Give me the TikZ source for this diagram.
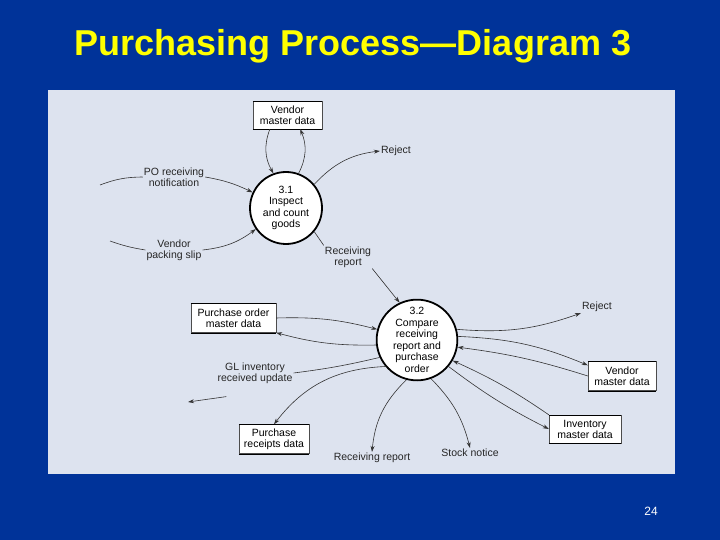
\documentclass[tikz,border=0pt]{standalone}
\usepackage{fontspec}
\setmainfont{Liberation Sans}
\usetikzlibrary{arrows.meta}
\definecolor{bg}{RGB}{0,51,153}
\definecolor{panel}{RGB}{221,227,239}
\definecolor{ttl}{RGB}{255,255,0}
\begin{document}
\begin{tikzpicture}[x=1pt,y=-1pt,
 lbl/.style={font=\fontsize{10.5}{11}\selectfont,align=center,inner sep=1pt,text=black!85},
 proc/.style={circle,draw,line width=1.8pt,fill=white,align=center,font=\fontsize{10.5}{11.5}\selectfont,inner sep=0pt},
 store/.style={draw=black!70,line width=0.4pt,fill=white,align=center,font=\fontsize{10.5}{11}\selectfont,inner sep=1.5pt,
   append after command={[line width=1.6pt] (\tikzlastnode.north west) edge[-] (\tikzlastnode.north east)
     (\tikzlastnode.south west) edge[-] (\tikzlastnode.south east)}},
 fl/.style={-{Stealth[length=6pt,width=4pt]},line width=0.6pt,black!80},
 ln/.style={line width=0.6pt,black!80}]
\useasboundingbox (0,0) rectangle (720,540);
\fill[bg] (0,0) rectangle (720,540);
\fill[panel] (48,90) rectangle (675,474);
\node[font=\bfseries\fontsize{36}{40}\selectfont,text=ttl] (title) at (353,46) {Purchasing Process---Diagram 3};
\node[text=white,font=\fontsize{12}{14}\selectfont] (pg) at (651,511) {24};

\node[proc,minimum size=72pt] (p1) at (286,208) {3.1\\Inspect\\and count\\goods};
\node[proc,minimum size=76pt] (p2) at (417,340) {3.2\\Compare\\receiving\\report and\\purchase\\order};

\node[store,minimum width=69pt,minimum height=28pt] (vm1) at (287.5,115) {Vendor\\master data};
\node[store,minimum width=85pt,minimum height=29pt] (po) at (233.5,318) {Purchase order\\master data};
\node[store,minimum width=70pt,minimum height=29pt] (pr) at (274,439) {Purchase\\receipts data};
\node[store,minimum width=68pt,minimum height=29pt] (vm2) at (622,376) {Vendor\\master data};
\node[store,minimum width=72pt,minimum height=28pt] (im) at (585,429) {Inventory\\master data};

\node[lbl] (porn) at (174,177) {PO receiving\\notification};
\node[lbl] (vps) at (174,250) {Vendor\\packing slip};
\node[lbl] (rej1) at (396,151) {Reject};
\node[lbl] (rr1) at (348,257) {Receiving\\report};
\node[lbl] (rej2) at (597,307) {Reject};
\node[lbl] (gl) at (255,373) {GL inventory\\received update};
\node[lbl] (rr2) at (372,458) {Receiving report};
\node[lbl] (sn) at (470,453) {Stock notice};

\coordinate (a1) at (100,185); \coordinate (a2) at (110,241);
\coordinate (a3) at (188,402);

% 3.1 flows
\draw[ln] (a1) to[bend left=10] (porn.west);
\draw[fl] (porn.east) to[bend left=8] (p1.155);
\draw[ln] (a2) to[bend right=5] (vps.west);
\draw[fl] (vps.east) to[bend right=15] (p1.215);
\draw[fl] (vm1.south west) ++(17,0) coordinate (v1) (v1) to[bend right=25] (p1.110);
\draw[fl] (p1.70) to[bend right=25] ([xshift=-22pt]vm1.south east);
\draw[fl] (p1.40) to[bend left=20] (rej1.west);
\draw[ln] (p1.320) -- (rr1.north west);
\draw[fl] (rr1.south east) -- (p2.115);

% 3.2 flows
\draw[fl] (po.east) to[bend left=8] (p2.165);
\draw[fl] (p2.187) to[bend left=8] (po.south east);
\draw[ln] (p2.190) ++(0,15) coordinate (g1) (p2.205) to[bend left=3] (gl.east);
\draw[fl] (gl.south west) ++(10,12) coordinate (g2) (g2) -- (a3);
\draw[fl] (p2.220) to[bend right=25] (pr.north);
\draw[fl] (p2.255) to[bend right=20] (rr2.north);
\draw[fl] (p2.290) to[bend left=15] (sn.north);
\draw[fl] (p2.320) to[bend right=5] (im.west);
\draw[fl] (im.north west) to[bend right=5] (p2.330);
\draw[fl] (vm2.west) to[bend right=5] (p2.350);
\draw[fl] (p2.5) to[bend left=10] ([yshift=-4pt]vm2.north west);
\draw[fl] (p2.15) to[bend right=12] (rej2.south west);
\end{tikzpicture}
\end{document}
